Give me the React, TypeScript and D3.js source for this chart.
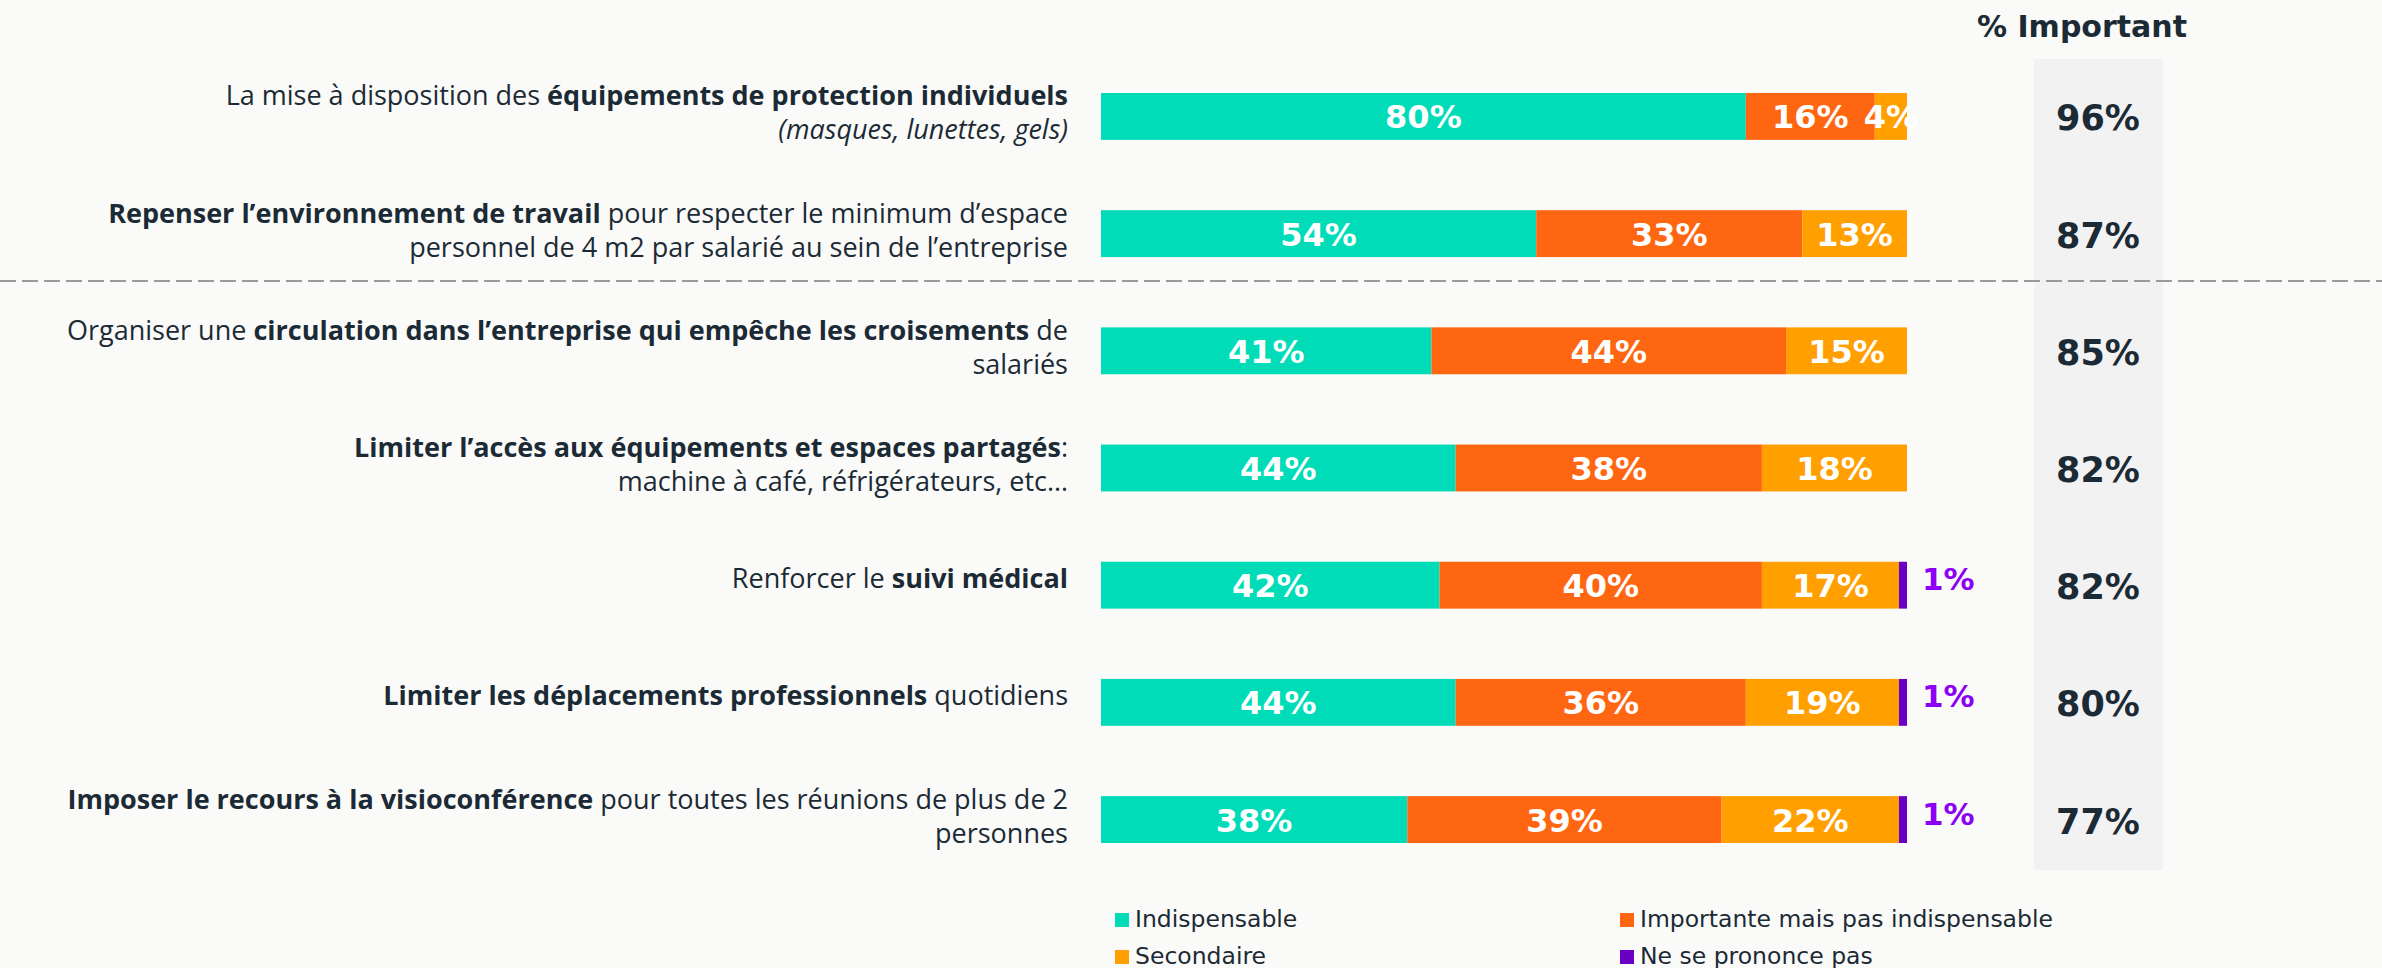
import React from 'react';
import * as d3 from 'd3';

// categories (label lines, each line a list of [text, style] runs)
type Run = [string, 'n' | 'b' | 'i'];
const labels: Run[][][] = [
  [
    [['La mise à disposition des ', 'n'], ['équipements de protection individuels', 'b']],
    [['(masques, lunettes, gels)', 'i']],
  ],
  [
    [['Repenser l’environnement de travail', 'b'], [' pour respecter le minimum d’espace', 'n']],
    [['personnel de 4 m2 par salarié au sein de l’entreprise', 'n']],
  ],
  [
    [['Organiser une ', 'n'], ['circulation dans l’entreprise qui empêche les croisements', 'b'], [' de', 'n']],
    [['salariés', 'n']],
  ],
  [
    [['Limiter l’accès aux équipements et espaces partagés', 'b'], [':', 'n']],
    [['machine à café, réfrigérateurs, etc…', 'n']],
  ],
  [[['Renforcer le ', 'n'], ['suivi médical', 'b']]],
  [[['Limiter les déplacements professionnels', 'b'], [' quotidiens', 'n']]],
  [
    [['Imposer le recours à la visioconférence', 'b'], [' pour toutes les réunions de plus de 2', 'n']],
    [['personnes', 'n']],
  ],
];

const indispensable = [80, 54, 41, 44, 42, 44, 38];
const importante = [16, 33, 44, 38, 40, 36, 39];
const secondaire = [4, 13, 15, 18, 17, 19, 22];
const nsp = [0, 0, 0, 0, 1, 1, 1];
const pctImportant = [96, 87, 85, 82, 82, 80, 77];

const seriesNames = ['Indispensable', 'Importante mais pas indispensable', 'Secondaire', 'Ne se prononce pas'];
const seriesColors = ['#00DCB8', '#FF6611', '#FFA000', '#6A00C4'];

const W = 2382;
const H = 968;
const textColor = '#1B2A35';
const labelFont = '"Open Sans", sans-serif';
const numFont = '"DejaVu Sans", Verdana, sans-serif';

export default function App() {
  const ids = labels.map((_, i) => String(i));
  const x = d3.scaleLinear().domain([0, 100]).range([1101, 1907]);
  const y = d3.scaleBand<string>().domain(ids).range([93, 843]).paddingInner(0.6).paddingOuter(0);
  const bw = y.bandwidth();

  const rows = ids.map((id, i) => {
    const vals = [indispensable[i], importante[i], secondaire[i], nsp[i]];
    const stack: { x0: number; x1: number; v: number; k: number }[] = [];
    let acc = 0;
    vals.forEach((v, k) => {
      stack.push({ x0: acc, x1: acc + v, v, k });
      acc += v;
    });
    return { id, i, stack };
  });

  const legendPos = [
    [1115, 913],
    [1620, 913],
    [1115, 950],
    [1620, 950],
  ];

  return (
    <svg width={W} height={H} style={{ position: 'absolute', left: 0, top: 0 }}>
      <rect width={W} height={H} fill="#FAFAF8" />
      <rect x={2034} y={59} width={129} height={811} fill="#F2F2F3" />
      <text x={2082} y={37} textAnchor="middle" fontFamily={numFont} fontWeight="bold" fontSize={30} fill={textColor}>
        % Important
      </text>
      <line x1={0} x2={W} y1={281} y2={281} stroke="#9A9A9A" strokeWidth={2} strokeDasharray="16 6" />

      {rows.map(({ id, i, stack }) => {
        const cy = (y(id) as number) + bw / 2;
        const lines = labels[i];
        const baselines = lines.length === 2 ? [cy - 11, cy + 23] : [cy + 3];
        return (
          <g key={id}>
            {lines.map((runs, li) => (
              <text key={li} x={1068} y={baselines[li]} textAnchor="end" fontFamily={labelFont} fontSize={27} fill={textColor}>
                {runs.map(([t, s], ri) => (
                  <tspan key={ri} fontWeight={s === 'b' ? 'bold' : 'normal'} fontStyle={s === 'i' ? 'italic' : 'normal'}>
                    {t}
                  </tspan>
                ))}
              </text>
            ))}
            {stack
              .filter((d) => d.v > 0)
              .map((d) => (
                <rect key={d.k} x={x(d.x0)} y={y(id)} width={x(d.x1) - x(d.x0)} height={bw} fill={seriesColors[d.k]} />
              ))}
            {stack
              .filter((d) => d.v > 0 && d.k < 3)
              .map((d) => (
                <text
                  key={'t' + d.k}
                  x={(x(d.x0) + x(d.x1)) / 2}
                  y={cy + 12}
                  textAnchor="middle"
                  fontFamily={numFont}
                  fontWeight="bold"
                  fontSize={32}
                  fill="#FFFFFF"
                >
                  {d.v}%
                </text>
              ))}
            {stack
              .filter((d) => d.v > 0 && d.k === 3)
              .map((d) => (
                <text key="nsp" x={x(d.x1) + 15} y={cy + 5} fontFamily={numFont} fontWeight="bold" fontSize={31} fill="#8C00F5">
                  {d.v}%
                </text>
              ))}
            <text x={2098} y={cy + 14} textAnchor="middle" fontFamily={numFont} fontWeight="bold" fontSize={35} fill={textColor}>
              {pctImportant[i]}%
            </text>
          </g>
        );
      })}

      {seriesNames.map((name, k) => {
        const [lx, ly] = legendPos[k];
        return (
          <g key={name}>
            <rect x={lx} y={ly} width={14} height={14} fill={seriesColors[k]} />
            <text x={lx + 20} y={ly + 14} fontFamily={numFont} fontSize={23.5} fill={textColor}>
              {name}
            </text>
          </g>
        );
      })}
    </svg>
  );
}
